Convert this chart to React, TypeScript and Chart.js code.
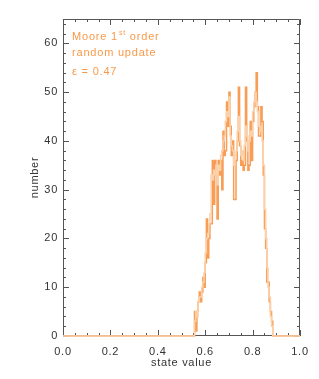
import React, { useEffect, useRef } from "react";
import { Chart, registerables } from "chart.js";

Chart.register(...registerables);

const BIN_START = 0.555;
const BIN_WIDTH = 0.005;

const darkCounts = [
  5, 1, 5, 7, 9, 7, 9, 12, 10, 15,
  24, 16, 20, 23, 23, 36, 27, 36, 33, 24,
  36, 33, 36, 30, 42, 37, 38, 48, 43, 50,
  43, 37, 40, 28, 28, 36, 40, 51, 39, 35,
  36, 34, 35, 51, 40, 34, 35, 44, 36, 44,
  47, 50, 54, 47, 41, 41, 47, 44, 33, 22,
  18, 11, 11, 7, 5, 3, 0,
];

const lightCounts = [
  3, 5, 4, 7, 8, 8, 10, 11, 13, 17,
  20, 21, 23, 25, 33, 32, 34, 33, 35, 31,
  35, 34, 37, 38, 40, 41, 44, 46, 45, 49,
  41, 39, 38, 35, 37, 38, 42, 45, 40, 37,
  38, 36, 39, 43, 41, 38, 40, 42, 41, 46,
  48, 50, 48, 46, 43, 42, 43, 40, 35, 26,
  20, 14, 10, 8, 4, 2, 0,
];

const xTickLabels = ["0.0", "0.2", "0.4", "0.6", "0.8", "1.0"];
const yTickLabels = ["0", "10", "20", "30", "40", "50", "60"];
const annotationLines = ["Moore 1", "random update", "\u03b5 = 0.47"];

const FONT = "'Liberation Sans', Arial, Helvetica, sans-serif";
const DARK = "#f79d55";
const LIGHT = "#fcd0a8";
const TEXT_ORANGE = "#f89a4a";

function toPoints(counts: number[]) {
  const pts: { x: number; y: number }[] = [{ x: 0, y: 0 }];
  counts.forEach((c, i) => pts.push({ x: BIN_START + i * BIN_WIDTH, y: c }));
  pts.push({ x: 1, y: 0 });
  return pts;
}

const framePlugin = {
  id: "frame",
  beforeDraw(chart: any) {
    (chart.ctx as any).letterSpacing = "0.7px";
  },
  beforeDatasetsDraw(chart: any) {
    const { ctx, chartArea, scales } = chart;
    const { left, right, top, bottom } = chartArea;
    ctx.save();
    ctx.strokeStyle = "#555";
    ctx.lineWidth = 1;
    ctx.beginPath();
    ctx.rect(left + 0.5, top + 0.5, right - left - 1, bottom - top - 1);
    ctx.stroke();
    const xs = scales.x;
    const ys = scales.y;
    ctx.beginPath();
    for (let i = 0; i <= 20; i++) {
      const v = i * 0.05;
      const px = Math.round(xs.getPixelForValue(v)) + 0.5;
      const len = i % 4 === 0 ? 6 : 3;
      ctx.moveTo(px, bottom);
      ctx.lineTo(px, bottom - len);
      ctx.moveTo(px, top);
      ctx.lineTo(px, top + len);
    }
    for (let v = 0; v <= 65; v += 2) {
      const py = Math.round(ys.getPixelForValue(v)) + 0.5;
      const len = v % 10 === 0 ? 6 : 3;
      ctx.moveTo(left, py);
      ctx.lineTo(left + len, py);
      ctx.moveTo(right, py);
      ctx.lineTo(right - len, py);
    }
    ctx.stroke();
    ctx.restore();
  },
  afterDraw(chart: any) {
    const { ctx, chartArea } = chart;
    const x0 = chartArea.left + 9;
    ctx.save();
    (ctx as any).letterSpacing = "0.8px";
    ctx.fillStyle = TEXT_ORANGE;
    ctx.font = `11px ${FONT}`;
    ctx.textBaseline = "middle";
    ctx.textAlign = "left";
    let y = chartArea.top + 18;
    ctx.fillText(annotationLines[0], x0, y);
    const w1 = ctx.measureText(annotationLines[0]).width;
    ctx.font = `7px ${FONT}`;
    ctx.fillText("st", x0 + w1 + 1, y - 4);
    const w2 = ctx.measureText("st").width;
    ctx.font = `11px ${FONT}`;
    ctx.fillText(" order", x0 + w1 + w2 + 1, y);
    y += 16;
    ctx.fillText(annotationLines[1], x0, y);
    y += 19;
    ctx.fillText(annotationLines[2], x0, y);
    ctx.restore();
  },
};

export default function App() {
  const ref = useRef<HTMLCanvasElement | null>(null);
  useEffect(() => {
    if (!ref.current) return;
    const chart = new Chart(ref.current, {
      type: "line",
      data: {
        datasets: [
          {
            data: toPoints(lightCounts),
            borderColor: LIGHT,
            borderWidth: 1.5,
            pointRadius: 0,
            stepped: true,
            fill: false,
            clip: false as any,
          },
          {
            data: toPoints(darkCounts),
            borderColor: DARK,
            borderWidth: 1.5,
            pointRadius: 0,
            stepped: true,
            fill: false,
            clip: false as any,
          },
        ],
      },
      options: {
        responsive: false,
        animation: false,
        layout: { padding: { left: 0, right: 19, top: 19, bottom: 0 } },
        plugins: { legend: { display: false }, tooltip: { enabled: false } },
        scales: {
          x: {
            type: "linear",
            min: 0,
            max: 1,
            grid: { display: false, drawTicks: false },
            border: { display: false },
            ticks: {
              stepSize: 0.2,
              padding: 9,
              color: "#333",
              font: { family: FONT, size: 11 },
              maxRotation: 0,
              callback: (v: any) => {
                const idx = Math.round(Number(v) / 0.2);
                return xTickLabels[idx] ?? "";
              },
            },
            title: {
              display: true,
              text: "state value",
              color: "#333",
              font: { family: FONT, size: 11 },
              padding: { top: 0, bottom: 9 },
            },
            afterFit: (s: any) => {
              s.height = 43;
            },
          },
          y: {
            type: "linear",
            min: 0,
            max: 65,
            grid: { display: false, drawTicks: false },
            border: { display: false },
            ticks: {
              stepSize: 10,
              padding: 5,
              color: "#333",
              font: { family: FONT, size: 11 },
              callback: (v: any) => {
                const idx = Math.round(Number(v) / 10);
                return yTickLabels[idx] ?? "";
              },
            },
            title: {
              display: true,
              text: "number",
              color: "#333",
              font: { family: FONT, size: 11 },
              padding: { top: 28, bottom: 0 },
            },
            afterFit: (s: any) => {
              s.width = 63;
            },
          },
        },
      },
      plugins: [framePlugin],
    });
    return () => chart.destroy();
  }, []);
  return (
    <canvas
      ref={ref}
      width={319}
      height={379}
      style={{ position: "absolute", left: 0, top: 0, display: "block" }}
    />
  );
}
